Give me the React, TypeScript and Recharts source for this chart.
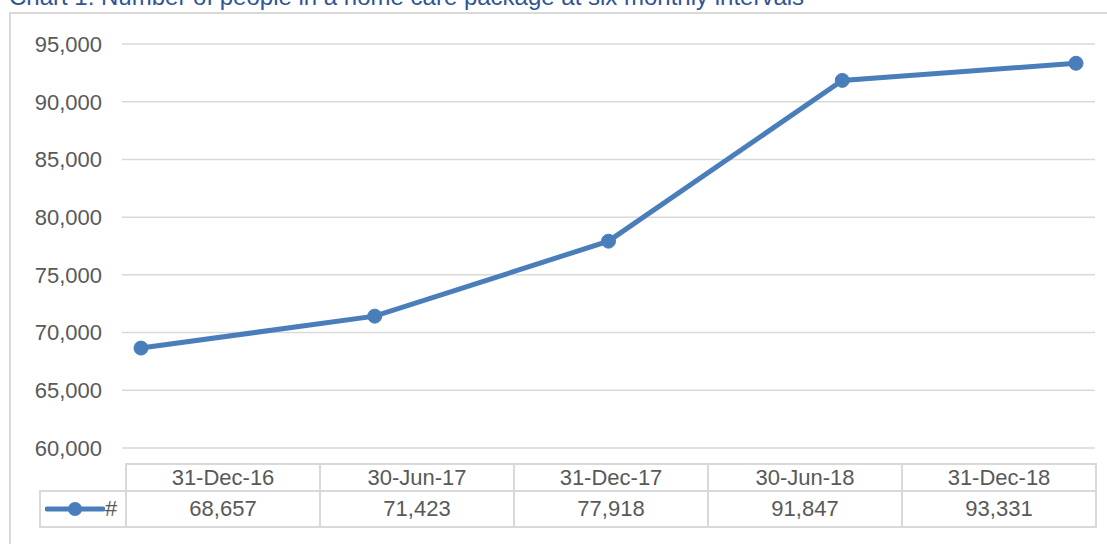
import { LineChart, Line, XAxis, YAxis, CartesianGrid } from "recharts";

const categories = ["31-Dec-16", "30-Jun-17", "31-Dec-17", "30-Jun-18", "31-Dec-18"];
const people = [68657, 71423, 77918, 91847, 93331];
const yTicks = [60000, 65000, 70000, 75000, 80000, 85000, 90000, 95000];
const seriesName = "#";
const title = "Chart 1: Number of people in a home care package at six monthly intervals";

const LINE = "#4A7EBB";
const GRID = "#D9D9D9";
const TEXT = "#595959";
const FONT = "'Liberation Sans', Arial, sans-serif";

const fmt = (v: number) => v.toLocaleString("en-US");

export default function App() {
  const data = categories.map((c, i) => ({ date: c, value: people[i] }));

  // data table geometry
  const tableLeft = 125;
  const colW = 194;
  const headTop = 463;
  const rowTop = 490;
  const rowBottom = 526;

  return (
    <div style={{ position: "fixed", left: 0, top: 0, width: 1107, height: 544, overflow: "hidden", background: "#fff", fontFamily: FONT }}>
      <div style={{ position: "absolute", left: 9, top: -15, fontSize: 24, lineHeight: "24px", color: "#2F5597", whiteSpace: "nowrap" }}>
        {title}
      </div>
      <div style={{ position: "absolute", left: 9, top: 12, width: 1130, height: 600, border: `2px solid ${GRID}`, boxSizing: "border-box" }} />

      <div style={{ position: "absolute", left: 0, top: 0 }}>
        <LineChart width={1107} height={544} data={data} margin={{ top: 44, right: 12, bottom: 96, left: 0 }}>
          <CartesianGrid horizontal vertical={false} stroke={GRID} strokeWidth={1.5} />
          <XAxis dataKey="date" hide padding={{ left: 19, right: 19 }} />
          <YAxis
            width={122}
            domain={[60000, 95000]}
            ticks={yTicks}
            tickFormatter={fmt}
            axisLine={false}
            tickLine={false}
            tickSize={0}
            tickMargin={20}
            tick={{ fill: TEXT, fontSize: 22, fontFamily: FONT }}
          />
          <Line
            type="linear"
            dataKey="value"
            stroke={LINE}
            strokeWidth={5}
            dot={{ r: 7, fill: LINE, stroke: LINE, strokeWidth: 1 }}
            isAnimationActive={false}
          />
        </LineChart>
      </div>

      {/* data table */}
      {categories.map((c, i) => (
        <div
          key={"h" + c}
          style={{
            position: "absolute", left: tableLeft + i * colW, top: headTop, width: colW + 2, height: rowTop - headTop + 2,
            border: `2px solid ${GRID}`, boxSizing: "border-box", textAlign: "center", fontSize: 22, lineHeight: `${rowTop - headTop - 2}px`, color: TEXT,
          }}
        >
          {c}
        </div>
      ))}
      {people.map((v, i) => (
        <div
          key={"v" + i}
          style={{
            position: "absolute", left: tableLeft + i * colW, top: rowTop, width: colW + 2, height: rowBottom - rowTop + 2,
            border: `2px solid ${GRID}`, boxSizing: "border-box", textAlign: "center", fontSize: 22, lineHeight: `${rowBottom - rowTop - 2}px`, color: TEXT,
          }}
        >
          {fmt(v)}
        </div>
      ))}
      <div
        style={{
          position: "absolute", left: 39, top: rowTop, width: tableLeft - 39 + 2, height: rowBottom - rowTop + 2,
          border: `2px solid ${GRID}`, boxSizing: "border-box",
        }}
      >
        <svg width={60} height={20} style={{ position: "absolute", left: 4, top: 7 }}>
          <line x1={2} y1={10} x2={58} y2={10} stroke={LINE} strokeWidth={5} strokeLinecap="round" />
          <circle cx={30} cy={10} r={7} fill={LINE} />
        </svg>
        <span style={{ position: "absolute", left: 64, top: 0, fontSize: 22, lineHeight: `${rowBottom - rowTop - 2}px`, color: TEXT }}>{seriesName}</span>
      </div>
    </div>
  );
}
